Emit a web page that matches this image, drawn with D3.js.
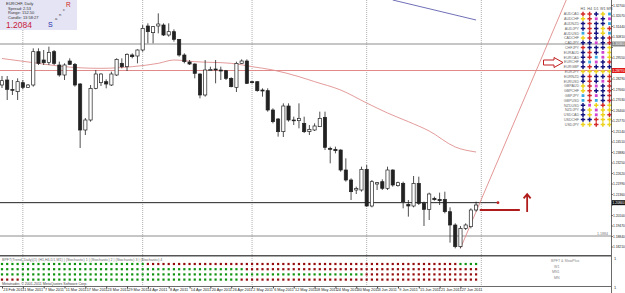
<!DOCTYPE html>
<html>
<head>
<meta charset="utf-8">
<script src="https://cdn.jsdelivr.net/npm/d3@7"></script>
<style>
  body { margin: 0; background: #fff; }
  svg { display: block; font-family: "Liberation Sans", Arial, sans-serif; }
</style>
</head>
<body>
<div id="chart"></div>
<script>
// EURCHF daily, 23 Feb 2011 .. 30 Jun 2011
const opens = [
  1.2790,1.2820,1.2763,1.2750,1.2804,1.2776,1.2790,1.2990,1.2940,1.2926,
  1.2990,1.2910,1.2850,1.2934,1.2914,1.2796,1.2520,1.2580,1.2770,1.2804,
  1.2810,1.2790,1.2850,1.2920,1.2900,1.2970,1.2964,1.3000,1.3144,1.3104,
  1.3144,1.3150,1.3090,1.3110,1.3064,1.2970,1.2928,1.2916,1.2856,1.2730,
  1.2876,1.2886,1.2880,1.2876,1.2830,1.2776,1.2920,1.2934,1.2810,1.2810,
  1.2760,1.2756,1.2640,1.2586,1.2510,1.2664,1.2580,1.2576,1.2560,1.2510,
  1.2520,1.2540,1.2596,1.2410,1.2404,1.2400,1.2280,1.2220,1.2160,1.2160,
  1.2284,1.2064,1.2196,1.2210,1.2170,1.2280,1.2186,1.2200,1.2074,1.2064,
  1.2200,1.2080,1.2044,1.2110,1.2104,1.2104,1.2030,1.1950,1.1820,1.1930,
  1.1940,1.2040];
const highs = [
  1.2844,1.2844,1.2820,1.2830,1.2820,1.2796,1.3010,1.3010,1.3000,1.3020,
  1.3000,1.2930,1.2920,1.2950,1.2922,1.2802,1.2592,1.2790,1.2880,1.2860,
  1.2824,1.2870,1.2950,1.2950,1.2980,1.2980,1.3004,1.3150,1.3160,1.3144,
  1.3220,1.3160,1.3160,1.3124,1.3066,1.2980,1.2940,1.2920,1.2860,1.2940,
  1.2900,1.2940,1.2900,1.2880,1.2836,1.2930,1.2944,1.2944,1.2814,1.2812,
  1.2770,1.2770,1.2650,1.2592,1.2680,1.2680,1.2600,1.2680,1.2600,1.2550,
  1.2560,1.2630,1.2630,1.2420,1.2420,1.2404,1.2350,1.2230,1.2180,1.2300,
  1.2310,1.2220,1.2208,1.2224,1.2300,1.2284,1.2210,1.2210,1.2100,1.2244,
  1.2240,1.2090,1.2144,1.2120,1.2144,1.2150,1.2056,1.1960,1.1944,1.1960,
  1.2050,1.2090];
const lows = [
  1.2772,1.2700,1.2730,1.2700,1.2764,1.2772,1.2780,1.2910,1.2910,1.2910,
  1.2910,1.2840,1.2820,1.2910,1.2780,1.2412,1.2490,1.2570,1.2764,1.2784,
  1.2770,1.2784,1.2844,1.2890,1.2874,1.2950,1.2920,1.2990,1.3040,1.3040,
  1.3100,1.3084,1.3080,1.3050,1.2960,1.2920,1.2910,1.2830,1.2710,1.2720,
  1.2874,1.2800,1.2820,1.2820,1.2776,1.2748,1.2916,1.2796,1.2799,1.2750,
  1.2720,1.2630,1.2560,1.2480,1.2478,1.2570,1.2550,1.2530,1.2502,1.2490,
  1.2514,1.2538,1.2400,1.2320,1.2380,1.2270,1.2210,1.2100,1.2136,1.2150,
  1.2060,1.2056,1.2160,1.2160,1.2160,1.2180,1.2180,1.2050,1.2000,1.2056,
  1.2070,1.1944,1.1980,1.2096,1.2070,1.2020,1.1844,1.1810,1.1810,1.1920,
  1.1930,1.2030];
const closes = [
  1.2816,1.2764,1.2760,1.2810,1.2776,1.2790,1.2990,1.2920,1.2924,1.2986,
  1.2920,1.2850,1.2910,1.2914,1.2790,1.2520,1.2580,1.2770,1.2856,1.2856,
  1.2796,1.2856,1.2944,1.2900,1.2974,1.2960,1.3000,1.3130,1.3110,1.3140,
  1.3156,1.3090,1.3110,1.3064,1.2970,1.2930,1.2916,1.2860,1.2730,1.2880,
  1.2883,1.2880,1.2874,1.2830,1.2780,1.2920,1.2934,1.2800,1.2804,1.2756,
  1.2754,1.2640,1.2570,1.2510,1.2664,1.2580,1.2576,1.2590,1.2510,1.2524,
  1.2544,1.2590,1.2416,1.2404,1.2396,1.2280,1.2220,1.2150,1.2169,1.2284,
  1.2064,1.2210,1.2204,1.2170,1.2280,1.2190,1.2204,1.2090,1.2064,1.2200,
  1.2080,1.2044,1.2136,1.2102,1.2096,1.2030,1.1950,1.1820,1.1930,1.1950,
  1.2040,1.2070];

// moving average, read at a few bars
const maBars = [0, 6, 12, 19, 25, 30, 33, 37, 44, 48, 52, 57, 60, 65, 70, 74, 78, 82, 87, 91];
const maVals = [1.2949,1.2924,1.2900,1.2890,1.2900,1.2920,1.2940,1.2930,1.2920,1.2900,
                1.2880,1.2840,1.2810,1.2760,1.2682,1.2622,1.2570,1.2514,1.2418,1.2388];

// date axis labels, one every 4 bars
const dateLabels = ["23 Feb 2011","1 Mar 2011","7 Mar 2011","11 Mar 2011","17 Mar 2011","23 Mar 2011",
  "29 Mar 2011","4 Apr 2011","8 Apr 2011","14 Apr 2011","20 Apr 2011","26 Apr 2011","2 May 2011",
  "6 May 2011","12 May 2011","18 May 2011","24 May 2011","30 May 2011","3 Jun 2011","9 Jun 2011",
  "15 Jun 2011","21 Jun 2011","27 Jun 2011"];
const monthStarts = [4, 27, 48, 70, 92];

const priceTicks = [1.3270,1.3207,1.3144,1.3081,1.3018,1.2955,1.2892,1.2829,1.2766,1.2703,
  1.2640,1.2577,1.2514,1.2451,1.2388,1.2325,1.2262,1.2199,1.2136,1.2073,1.2010,1.1947,1.1884,1.1821];

// horizontal lines
const grayLevel = 1.3036, redLevel = 1.2877, bidLevel = 1.2084, lowLevel = 1.1884;

// trend lines [bar, price]
const redTrend = [[88, 1.1810], [109, 1.3351]];
const blueTrend = [[75, 1.3300], [91, 1.3180]];

// subwindow signal rows (runs of G / R per bar)
const sigRows = [
  [["G", 28], ["R", 60], ["G", 4]],
  [["G", 47], ["R", 45]],
  [["G", 70], ["R", 22]],
  [["R", 4], ["G", 42], ["R", 46]]
];

// currency matrix
const tfNames = ["H1", "H4", "D1", "W1", "MN"];
const pairs = ["AUDCAD","AUDCHF","AUDNZD","AUDJPY","AUDUSD","CADCHF","CADJPY","CHFJPY",
  "EURAUD","EURCAD","EURCHF","EURGBP","EURJPY","EURNZD","EURUSD","GBPAUD","GBPCHF",
  "GBPJPY","GBPUSD","NZDUSD","NZDJPY","USDCAD","USDCHF","USDJPY"];
const pairSignals = ["RRBYC","YRMBM","BRBBC","BRBYR","CRBYC","YRBBR","BBMBR","RBBBY",
  "BRBMY","BRCMY","BCMBR","BRBBB","YYYYY","BRBBR","BRBMR","YRMBR","YRBBR",
  "CRMBR","CRCBR","BMYRY","BYMYY","BYMYR","BBRYY","YYRYY"];

const W = 625, H = 293;
const plotRight = 611, mainBottom = 255, subTop = 256, subBottom = 286;

const svg = d3.select("#chart").append("svg").attr("width", W).attr("height", H);

const x = d3.scaleLinear().domain([0, 92]).range([2, 481.3]);
const y = d3.scaleLinear().domain([1.1764, 1.3300]).range([256, 0]);

svg.append("defs").append("clipPath").attr("id", "mainClip")
  .append("rect").attr("x", 0).attr("y", 0).attr("width", plotRight).attr("height", mainBottom);

// period separators
svg.append("g").selectAll("line").data(monthStarts).join("line")
  .attr("x1", d => x(d)).attr("x2", d => x(d))
  .attr("y1", 0).attr("y2", subBottom)
  .attr("stroke", "#9a9a9a").attr("stroke-width", 0.8).attr("stroke-dasharray", "1,1");

const main = svg.append("g").attr("clip-path", "url(#mainClip)");

// horizontal levels
main.append("line").attr("x1", 0).attr("x2", plotRight).attr("y1", y(grayLevel)).attr("y2", y(grayLevel))
  .attr("stroke", "#8c8c8c").attr("stroke-width", 1);
main.append("line").attr("x1", 0).attr("x2", plotRight).attr("y1", y(redLevel)).attr("y2", y(redLevel))
  .attr("stroke", "#e08a8a").attr("stroke-width", 1);
main.append("line").attr("x1", 0).attr("x2", plotRight).attr("y1", y(lowLevel)).attr("y2", y(lowLevel))
  .attr("stroke", "#8c8c8c").attr("stroke-width", 1);
main.append("line").attr("x1", 0).attr("x2", x(95.2)).attr("y1", y(bidLevel)).attr("y2", y(bidLevel))
  .attr("stroke", "#222").attr("stroke-width", 1);
main.append("circle").attr("cx", x(95.2)).attr("cy", y(bidLevel)).attr("r", 1.4).attr("fill", "#c02020");

// moving average
main.append("path")
  .datum(maBars.map((b, i) => [b, maVals[i]]))
  .attr("fill", "none").attr("stroke", "#e09090").attr("stroke-width", 0.9)
  .attr("d", d3.line().x(d => x(d[0])).y(d => y(d[1])).curve(d3.curveMonotoneX));

// trend lines
const trendLine = d3.line().x(d => x(d[0])).y(d => y(d[1]));
main.append("path").datum(redTrend).attr("fill", "none")
  .attr("stroke", "#e08a8a").attr("stroke-width", 0.9).attr("d", trendLine);
main.append("path").datum(blueTrend).attr("fill", "none")
  .attr("stroke", "#6060b0").attr("stroke-width", 0.9).attr("d", trendLine);

// candles
const bars = d3.range(opens.length);
const bw = 3.2;
main.append("g").selectAll("line").data(bars).join("line")
  .attr("x1", i => x(i)).attr("x2", i => x(i))
  .attr("y1", i => y(highs[i])).attr("y2", i => y(lows[i]))
  .attr("stroke", "#222").attr("stroke-width", 0.8);
main.append("g").selectAll("rect").data(bars).join("rect")
  .attr("x", i => x(i) - bw / 2)
  .attr("y", i => y(Math.max(opens[i], closes[i])))
  .attr("width", bw)
  .attr("height", i => Math.max(0.8, Math.abs(y(opens[i]) - y(closes[i]))))
  .attr("fill", i => closes[i] >= opens[i] ? "#fff" : "#222")
  .attr("stroke", "#222").attr("stroke-width", 0.7);

// red marks to the right of the last bar
main.append("line").attr("x1", x(91.7)).attr("x2", x(99.4)).attr("y1", y(1.2040)).attr("y2", y(1.2040))
  .attr("stroke", "#b01c1c").attr("stroke-width", 2);
const ax = x(100.8);
main.append("path")
  .attr("d", `M${ax},${y(1.2028)} L${ax},${y(1.2135)} M${ax - 3.5},${y(1.2110)} L${ax},${y(1.2135)} L${ax + 3.5},${y(1.2110)}`)
  .attr("fill", "none").attr("stroke", "#b01c1c").attr("stroke-width", 1.8);

// hollow arrow pointing at the matrix row
svg.append("path")
  .attr("d", "M543.5,60 L554,60 L554,57.5 L563,62.5 L554,67.5 L554,65 L543.5,65 Z")
  .attr("fill", "#fff").attr("stroke", "#c02020").attr("stroke-width", 1);

// currency matrix
const colX = d3.scalePoint().domain(tfNames).range([583, 609.5]);
const rowY = d3.scalePoint().domain(pairs).range([14, 124.4]);
const sigColor = { R: "#d42a2a", B: "#141480", M: "#d044d0", Y: "#ecd21c", C: "#38a8e0" };
const mtx = svg.append("g");
mtx.selectAll("text.tf").data(tfNames).join("text")
  .attr("x", d => colX(d)).attr("y", 9.5).attr("text-anchor", "middle")
  .attr("font-size", 3.8).attr("fill", "#555").text(d => d);
mtx.selectAll("text.pair").data(pairs).join("text")
  .attr("x", 579).attr("y", d => rowY(d) + 1.4).attr("text-anchor", "end")
  .attr("font-size", 3.6).attr("fill", "#666").text(d => d);
const cells = pairs.flatMap((p, r) => tfNames.map((t, c) => ({ p, t, s: pairSignals[r][c] })));
mtx.selectAll("path").data(cells).join("path")
  .attr("transform", d => `translate(${colX(d.t)},${rowY(d.p)})`)
  .attr("d", d => d3.symbol().type(d.s === "M" || d.s === "C" ? d3.symbolSquare : d3.symbolCross)
    .size(d.s === "M" || d.s === "C" ? 8 : 11)())
  .attr("fill", d => sigColor[d.s]);

// info panel
const info = svg.append("g");
info.append("rect").attr("x", 0).attr("y", 0).attr("width", 77).attr("height", 30).attr("fill", "#e4e4f4");
const infoLines = ["EURCHF, Daily", "Spread: 2.53", "Range: 152.50", "Candle: 13:58:27"];
info.selectAll("text.l").data(infoLines).join("text")
  .attr("x", (d, i) => i ? 8 : 6).attr("y", (d, i) => 5 + i * 4.6)
  .attr("font-size", 4).attr("fill", "#333").text(d => d);
info.append("text").attr("x", 6).attr("y", 28).attr("font-size", 8.5).attr("fill", "#c8203c").text("1.2084");
const letters = [["S", 48, 27, "#1c2ca8", 7], ["a", 55, 20, "#333", 4], ["n", 59, 16, "#333", 4],
  ["c", 63, 11, "#333", 4], ["R", 66, 7, "#d02020", 6.5]];
info.selectAll("text.s").data(letters).join("text")
  .attr("x", d => d[1]).attr("y", d => d[2]).attr("font-size", d => d[4]).attr("fill", d => d[3]).text(d => d[0]);

// price axis
const tags = [[grayLevel, "#8a8a8a"], [redLevel, "#e01818"], [bidLevel, "#111"]];
svg.append("line").attr("x1", plotRight + 0.5).attr("x2", plotRight + 0.5).attr("y1", 0).attr("y2", H)
  .attr("stroke", "#444").attr("stroke-width", 0.8);
const yAxis = svg.append("g").attr("transform", `translate(${plotRight + 0.5},0)`)
  .call(d3.axisRight(y).tickValues(priceTicks).tickFormat(d3.format(".5f")).tickSize(1.2));
yAxis.select(".domain").remove();
yAxis.selectAll("text").attr("font-size", 3.3).attr("fill", "#222").attr("x", 1.4)
  .attr("display", d => tags.some(([p]) => Math.abs(y(p) - y(d)) < 5) ? "none" : null);
yAxis.selectAll("line").attr("stroke", "#444");

tags.forEach(([p, c]) => {
  svg.append("rect").attr("x", plotRight + 1).attr("y", y(p) - 2.5).attr("width", 13.5).attr("height", 5).attr("fill", c);
  svg.append("text").attr("x", plotRight + 1.6).attr("y", y(p) + 1.2).attr("font-size", 3.3)
    .attr("fill", "#fff").text(d3.format(".5f")(p));
});
svg.append("text").attr("x", 608).attr("y", y(lowLevel) - 1).attr("text-anchor", "end")
  .attr("font-size", 3.6).attr("fill", "#777").text(d3.format(".4f")(lowLevel));

// subwindow
svg.append("line").attr("x1", 0).attr("x2", plotRight).attr("y1", mainBottom + 0.8).attr("y2", mainBottom + 0.8)
  .attr("stroke", "#555").attr("stroke-width", 1.6);
svg.append("text").attr("x", 2).attr("y", 260.5).attr("font-size", 3.6).attr("fill", "#666")
  .text("BPFT(Trend_Daily)(1) (H1,H4,D1,W1) | (Stochastic) 1 | (Stochastic) 2 | (Stochastic) 3 | (Stochastic) 4");
const rowYs = [264, 269.2, 274.4, 279.6];
const sigColors = { G: "#0f930f", R: "#960c0c" };
sigRows.forEach((runs, r) => {
  const cells = runs.flatMap(([c, n]) => Array(n).fill(c));
  svg.append("g").selectAll("rect").data(cells).join("rect")
    .attr("x", (c, i) => x(i) - 1.1).attr("y", rowYs[r] - 1.1)
    .attr("width", 2.2).attr("height", 2.2).attr("fill", c => sigColors[c]);
});
svg.append("text").attr("x", 2).attr("y", 284.5).attr("font-size", 3.6).attr("fill", "#444")
  .text("Metatrader, \u00a9 2001-2011 MetaQuotes Software Corp.");
const subLabels = [["BPFT & SlowPlus", 551, 261.5], ["W1", 554, 267.5], ["MN1", 552, 273], ["MN", 554, 278.5]];
svg.selectAll("text.sub").data(subLabels).join("text")
  .attr("x", d => d[1]).attr("y", d => d[2]).attr("font-size", 3.6).attr("fill", "#888").text(d => d[0]);
svg.append("text").attr("x", 614).attr("y", 260).attr("font-size", 4).attr("fill", "#333").text("1");
svg.append("text").attr("x", 614).attr("y", 289).attr("font-size", 4).attr("fill", "#333").text("1");

// date axis
svg.append("line").attr("x1", 0).attr("x2", plotRight).attr("y1", subBottom + 0.5).attr("y2", subBottom + 0.5)
  .attr("stroke", "#444").attr("stroke-width", 0.8);
const xAxis = svg.append("g").attr("transform", `translate(0,${subBottom + 0.5})`)
  .call(d3.axisBottom(x).tickValues(d3.range(0, 89, 4)).tickFormat((d, i) => dateLabels[i]).tickSize(2));
xAxis.select(".domain").remove();
xAxis.selectAll("line").attr("stroke", "#444");
xAxis.selectAll("text").attr("text-anchor", "start").attr("dx", 0.8).attr("y", 2.2)
  .attr("font-size", 3.8).attr("fill", "#222");
</script>
</body>
</html>
